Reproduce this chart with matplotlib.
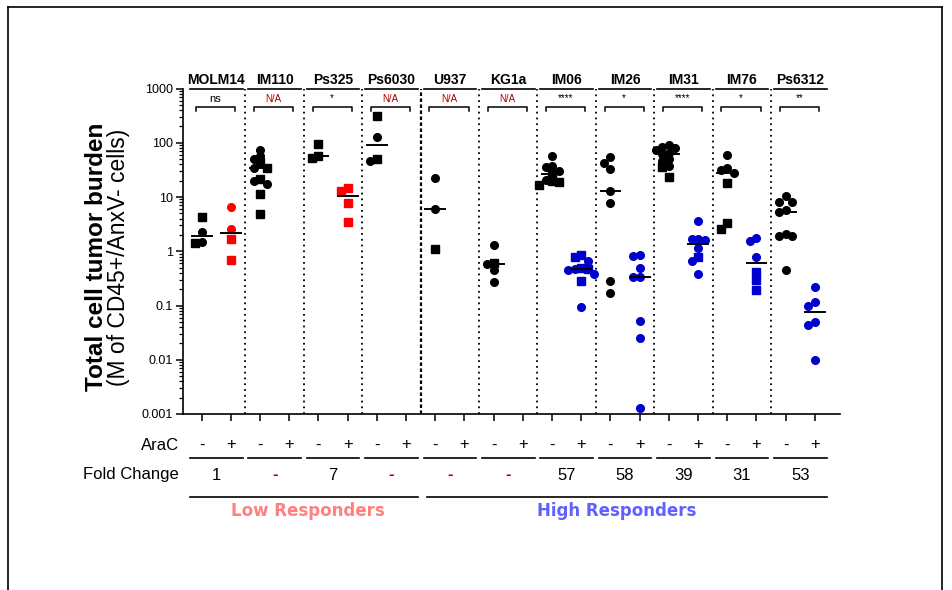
# dot plot of tumor burden per cell line, -/+ AraC, log scale
import numpy as np
import matplotlib
matplotlib.use('Agg')
import matplotlib.pyplot as plt
from matplotlib import transforms
from matplotlib.lines import Line2D
from matplotlib.ticker import FixedLocator, FixedFormatter, LogLocator, NullFormatter

plt.rcParams['font.family'] = ['Liberation Sans', 'DejaVu Sans']

lines = ['MOLM14', 'IM110', 'Ps325', 'Ps6030', 'U937', 'KG1a',
         'IM06', 'IM26', 'IM31', 'IM76', 'Ps6312']
sig = ['ns', 'N/A', '*', 'N/A', 'N/A', 'N/A', '****', '*', '****', '*', '**']
fold = ['1', '-', '7', '-', '-', '-', '57', '58', '39', '31', '53']
n_low = 4  # first four lines are low responders

# untreated (-AraC), circles and squares
minus_circ = [[2.27, 1.48], [74.6, 57, 49.4, 34.7, 19.4, 17.1], [], [127, 46],
              [22.4, 5.9], [1.29, 0.57, 0.46, 0.27], [56, 37, 35, 30, 21],
              [54, 43, 32.8, 12.7, 7.7, 0.28, 0.17],
              [90, 85, 80, 72, 65, 62, 50, 46, 38], [60, 34, 32, 27.7],
              [10.3, 8.1, 8.1, 5.7, 5.3, 2.1, 1.95, 1.95, 0.46]]
minus_sq = [[4.3, 1.42], [44, 34.7, 21.8, 11.4, 4.8], [96, 57, 52], [306, 51],
            [1.12], [0.62], [26, 20, 19, 16.5], [], [35, 23], [18.4, 3.3, 2.6], []]
# treated (+AraC)
plus_circ = [[6.5, 2.6], [], [], [], [], [], [0.66, 0.48, 0.45, 0.38, 0.094],
             [0.87, 0.82, 0.49, 0.336, 0.336, 0.052, 0.025, 0.0013],
             [3.6, 1.65, 1.6, 1.65, 1.15, 0.66, 0.38], [1.79, 1.53, 0.77],
             [0.22, 0.115, 0.1, 0.049, 0.043, 0.01]]
plus_sq = [[1.7, 0.68], [], [12.9, 14.9, 7.6, 3.5], [], [], [],
           [0.84, 0.78, 0.49, 0.47, 0.28], [], [0.77], [0.42, 0.3, 0.19], []]


def swarm(vals, step=0.22, diam=6.0, ppd=54.3, slot=29.2):
    # greedy beeswarm: each point goes to the nearest free offset
    vals = np.asarray(vals, dtype=float)
    py = np.log10(vals) * ppd
    order = np.argsort(-vals, kind='stable')
    offs = np.zeros(len(vals))
    placed = []
    cands = [0]
    for k in range(1, 6):
        cands += [-k, k]
    for i in order:
        for k in cands:
            ok = True
            for j in placed:
                dx = (k * step - offs[j]) * slot
                dy = py[i] - py[j]
                if dx * dx + dy * dy < diam * diam:
                    ok = False
                    break
            if ok:
                offs[i] = k * step
                break
        placed.append(i)
    return offs


fig = plt.figure(figsize=(9.52, 5.9), dpi=100)
W, H = 952, 590
ax = fig.add_axes([183 / W, 1 - 414 / H, (840 - 183) / W, (414 - 88.5) / H])

black = 'black'
red = '#ff0000'
blue = '#0000cc'

for g in range(len(lines)):
    for side, circ, sq in ((0, minus_circ, minus_sq), (1, plus_circ, plus_sq)):
        c = circ[g]
        s = sq[g]
        vals = c + s
        if not vals:
            continue
        col = black if side == 0 else (red if g < n_low else blue)
        x0 = 2 * g + side
        offs = swarm(vals)
        xs = x0 + offs
        nc = len(c)
        ax.plot(xs[:nc], c, 'o', ms=5.5, color=col, mec=col, zorder=2, clip_on=False)
        ax.plot(xs[nc:], s, 's', ms=5.2, color=col, mec=col, zorder=2, clip_on=False)
        med = np.median(vals)
        ax.plot([x0 - 0.34, x0 + 0.34], [med, med], color='black', lw=1.4, zorder=3)

ax.set_yscale('log')
ax.set_ylim(0.001, 1000)
ax.set_xlim(-0.64, 21.86)
ax.yaxis.set_major_locator(FixedLocator([0.001, 0.01, 0.1, 1, 10, 100, 1000]))
ax.yaxis.set_major_formatter(FixedFormatter(['0.001', '0.01', '0.1', '1', '10', '100', '1000']))
ax.yaxis.set_minor_locator(LogLocator(base=10, subs=np.arange(2, 10)))
ax.yaxis.set_minor_formatter(NullFormatter())
ax.set_xticks(np.arange(2 * len(lines)))
ax.set_xticklabels([])
ax.tick_params(axis='both', which='major', direction='out', length=5, width=1.1,
               labelsize=9, pad=2)
ax.tick_params(axis='y', which='minor', direction='out', length=3, width=0.9)
for sp in ['top', 'right']:
    ax.spines[sp].set_visible(False)
for sp in ['left', 'bottom']:
    ax.spines[sp].set_linewidth(1.2)

# separators between cell lines
for g in range(len(lines) - 1):
    xs = 2 * g + 1.5
    if g == n_low - 1:
        ax.axvline(xs, color='black', lw=1.6, ls=(0, (1.6, 1.1)), zorder=1)
    else:
        ax.axvline(xs, color='black', lw=1.3, ls=(0, (1, 2.2)), zorder=1)

trans = transforms.blended_transform_factory(ax.transData, ax.transAxes)


def ay(ypix):
    return (414 - ypix) / (414 - 88.5)


for g, name in enumerate(lines):
    x0 = 2 * g
    mid = x0 + 0.5
    # header with underline
    ax.text(mid, ay(80), name, transform=trans, ha='center', va='center',
            fontsize=10, fontweight='bold', family=['Liberation Sans Narrow', 'Liberation Sans'])
    ax.add_line(Line2D([x0 - 0.4, x0 + 1.4], [ay(89.3), ay(89.3)], transform=trans,
                       color='black', lw=1.2, clip_on=False))
    # significance bracket
    by, ty = ay(106.5), ay(110.5)
    ax.add_line(Line2D([x0 - 0.2, x0 - 0.2, x0 + 1.14, x0 + 1.14], [ty, by, by, ty],
                       transform=trans, color='black', lw=1.1, clip_on=False))
    s = sig[g]
    if s == 'N/A':
        ax.text(x0 + 0.47, ay(98.5), s, transform=trans, ha='center', va='center',
                fontsize=7, color='#b00000')
    else:
        ax.text(x0 + 0.47, ay(98.5), s, transform=trans, ha='center', va='center',
                fontsize=8 if s == 'ns' else 7, color='black')
    # bottom rows
    ax.text(x0, ay(445), '-', transform=trans, ha='center', va='center', fontsize=12)
    ax.text(x0 + 1, ay(445), '+', transform=trans, ha='center', va='center', fontsize=12)
    ax.add_line(Line2D([x0 - 0.4, x0 + 1.4], [ay(458.3), ay(458.3)], transform=trans,
                       color='black', lw=1.2, clip_on=False))
    f = fold[g]
    if f == '-':
        ax.text(mid, ay(475), '-', transform=trans, ha='center', va='center',
                fontsize=12, fontweight='bold', color='#b00000')
    else:
        ax.text(mid, ay(475), f, transform=trans, ha='center', va='center', fontsize=12)

ax.text(-0.78, ay(445), 'AraC', transform=trans, ha='right', va='center', fontsize=12)
ax.text(-0.78, ay(475), 'Fold Change', transform=trans, ha='right', va='center', fontsize=12)

# responder groups
ax.add_line(Line2D([-0.4, 2 * n_low - 0.6], [ay(497.3), ay(497.3)], transform=trans,
                   color='black', lw=1.2, clip_on=False))
ax.add_line(Line2D([2 * n_low - 0.28, 2 * len(lines) - 0.6], [ay(497.3), ay(497.3)],
                   transform=trans, color='black', lw=1.2, clip_on=False))
ax.text((2 * n_low - 1) / 2 + 0.12, ay(511), 'Low Responders', transform=trans, ha='center',
        va='center', fontsize=12, fontweight='bold', family='DejaVu Sans', color='#ff8080')
ax.text((2 * n_low + 2 * len(lines) - 1) / 2 - 0.3, ay(511), 'High Responders', transform=trans,
        ha='center', va='center', fontsize=12, fontweight='bold', family='DejaVu Sans',
        color='#6060ff')

# y label, two lines
fig.text(97 / W, 1 - 257 / H, 'Total cell tumor burden', rotation=90, ha='center',
         va='center', fontsize=17.5, fontweight='bold')
fig.text(119 / W, 1 - 257 / H, '(M of CD45+/AnxV- cells)', rotation=90, ha='center',
         va='center', fontsize=16.5)

# frame around the figure
for xx, yy in (([8, 942], [7, 7]), ([8, 8], [7, 600]), ([942, 942], [7, 600])):
    fig.add_artist(Line2D([x / W for x in xx], [1 - y / H for y in yy], color='black', lw=1.2))

fig.savefig('out.png', dpi=100)
